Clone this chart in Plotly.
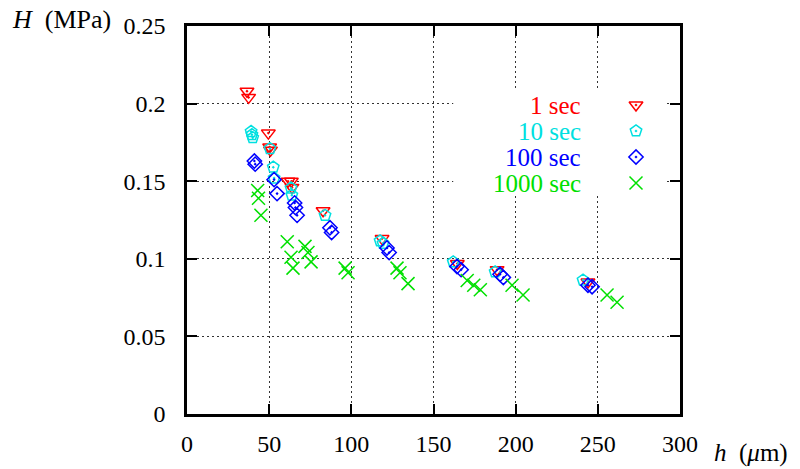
import plotly.graph_objects as go

# Hardness H (MPa) against indentation depth h (um) for four hold times
h_1s = [36.5, 37.5, 49.5, 50.3, 50.8, 61.5, 63.5, 63.9, 82.8, 118.7, 164.5, 188.7, 244.0]
H_1s = [0.208, 0.204, 0.181, 0.172, 0.170, 0.150, 0.150, 0.146, 0.131, 0.113, 0.097, 0.093, 0.085]

h_10s = [39.0, 39.5, 40.0, 50.5, 52.5, 53.0, 63.3, 63.8, 84.0, 117.5, 119.3, 162.0, 187.5, 241.0]
H_10s = [0.182, 0.180, 0.178, 0.171, 0.159, 0.152, 0.1456, 0.141, 0.128, 0.1115, 0.110, 0.098, 0.0915, 0.0863]

h_100s = [41.0, 41.5, 53.0, 54.8, 65.5, 66.0, 67.0, 87.0, 88.0, 121.7, 123.0, 164.3, 166.8, 190.5, 192.5, 244.0, 246.5]
H_100s = [0.163, 0.161, 0.151, 0.142, 0.136, 0.133, 0.128, 0.120, 0.117, 0.107, 0.104, 0.095, 0.093, 0.090, 0.088, 0.083, 0.082]

h_1000s = [43.0, 43.5, 45.0, 61.0, 63.3, 64.5, 71.8, 73.6, 75.5, 96.2, 98.0, 127.8, 129.6, 134.5,
           170.5, 174.5, 178.5, 197.8, 204.5, 255.6, 261.7]
H_1000s = [0.144, 0.139, 0.128, 0.111, 0.101, 0.094, 0.108, 0.104, 0.098, 0.094, 0.091, 0.094, 0.091, 0.084,
           0.086, 0.083, 0.080, 0.083, 0.0767, 0.0767, 0.072]

series_labels = ["1 sec", "10 sec", "100 sec", "1000 sec"]
x_ticks = [0, 50, 100, 150, 200, 250, 300]
y_ticks = [0, 0.05, 0.1, 0.15, 0.2, 0.25]
y_tick_text = ["0", "0.05", "0.1", "0.15", "0.2", "0.25"]

FONT = "Liberation Serif"
colors = ["#ff0000", "#00e0e0", "#0000ff", "#00e000"]
symbols = ["triangle-down-open-dot", "pentagon-open-dot", "diamond-open-dot", "x-thin-open"]
sizes = [12, 12, 11, 13]

series = [(h_1s, H_1s), (h_10s, H_10s), (h_100s, H_100s), (h_1000s, H_1000s)]

fig = go.Figure()
for (xs, ys), c, s, sz, name in zip(series, colors, symbols, sizes, series_labels):
    fig.add_trace(go.Scatter(
        x=xs, y=ys, mode="markers", name=name, showlegend=False,
        marker=dict(symbol=s, size=sz, color=c, line=dict(color=c, width=1.5)),
    ))

# Key: white box over the grid, labels on the left, symbols on the right
# (overlay axes measured in pixels of the plotting area)
key_rows = [105, 131, 157, 183]
key_text_x = 583
key_sym_x = 636
for row, c, s, sz, name in zip(key_rows, colors, symbols, sizes, series_labels):
    fig.add_trace(go.Scatter(
        x=[key_sym_x], y=[row], xaxis="x2", yaxis="y2", mode="markers", showlegend=False,
        marker=dict(symbol=s, size=sz, color=c, line=dict(color=c, width=1.5)),
        hoverinfo="skip",
    ))
    fig.add_annotation(x=key_text_x, y=row, xref="x2", yref="y2", text=name, showarrow=False,
                       xanchor="right", yanchor="middle", height=24,
                       font=dict(family=FONT, size=25, color=c))

fig.add_shape(type="rect", xref="x", yref="y", x0=162, x1=291.5, y0=0.1405, y1=0.2101,
              fillcolor="white", line=dict(width=0), layer="between")

axis_common = dict(
    showline=True, linecolor="black", linewidth=2.5, mirror="ticks",
    ticks="inside", ticklen=10, tickwidth=2, tickcolor="black",
    showgrid=True, gridcolor="#333333", gridwidth=1, griddash="2px,3px",
    zeroline=False, tickfont=dict(family=FONT, size=24, color="black"),
)

fig.update_layout(
    width=800, height=469,
    margin=dict(l=187, r=120, t=26, b=55),
    paper_bgcolor="white", plot_bgcolor="white",
    font=dict(family=FONT),
    xaxis=dict(range=[0, 300], tickvals=x_ticks, ticklabelstandoff=6, **axis_common),
    yaxis=dict(range=[0, 0.25], tickvals=y_ticks, ticktext=y_tick_text, ticklabelstandoff=14,
               **axis_common),
    xaxis2=dict(overlaying="x", range=[187, 680], visible=False),
    yaxis2=dict(overlaying="y", range=[414, 26], visible=False),
)

# Axis titles placed beside the frame (paper coordinates)
fig.add_annotation(x=-0.359, y=1.018, xref="paper", yref="paper",
                   text="<i>H</i>&nbsp;&nbsp;(MPa)",
                   showarrow=False, xanchor="left", yanchor="middle",
                   font=dict(family=FONT, size=26, color="black"))
fig.add_annotation(x=1.065, y=-0.1415, xref="paper", yref="paper",
                   text="<i>h</i>&nbsp;&nbsp;(<i>μ</i>m)",
                   showarrow=False, xanchor="left", yanchor="bottom",
                   font=dict(family=FONT, size=25, color="black"))

fig.write_html("out.html")
